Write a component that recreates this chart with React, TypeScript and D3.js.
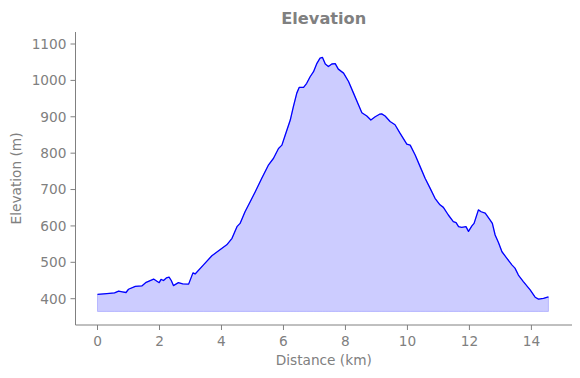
import React from "react";
import * as d3 from "d3";

const distanceKm = [
  0, 0.3, 0.55, 0.68, 0.8, 0.92, 1.0, 1.22, 1.43, 1.57, 1.81, 1.99, 2.05, 2.13, 2.22, 2.31,
  2.38, 2.45, 2.61, 2.75, 2.94, 3.08, 3.15, 3.42, 3.69, 3.94, 4.17, 4.34, 4.5, 4.6, 4.76,
  4.93, 5.09, 5.3, 5.52, 5.68, 5.84, 5.95, 6.05, 6.22, 6.32, 6.43, 6.51, 6.65, 6.75, 6.86,
  6.97, 7.08, 7.18, 7.26, 7.35, 7.45, 7.56, 7.67, 7.77, 7.94, 8.1, 8.26, 8.42, 8.53, 8.69,
  8.82, 8.96, 9.1, 9.17, 9.28, 9.44, 9.6, 9.76, 9.98, 10.09, 10.25, 10.41, 10.57, 10.73,
  10.89, 11.05, 11.16, 11.32, 11.48, 11.57, 11.65, 11.75, 11.89, 11.97, 12.08, 12.15, 12.29,
  12.38, 12.51, 12.67, 12.74, 12.83, 12.94, 13.05, 13.21, 13.37, 13.47, 13.58, 13.74, 13.96,
  14.12, 14.23, 14.39, 14.47, 14.55,
];

const elevationM = [
  412, 414, 416, 421, 419, 417, 426, 434, 435, 445, 454, 444, 453, 450, 457, 459,
  450, 436, 444, 441, 440, 471, 468, 493, 518, 534, 548, 566, 598, 607, 639,
  667, 694, 731, 768, 786, 813, 822, 848, 891, 928, 965, 981, 981, 992, 1010,
  1024, 1047, 1061, 1063, 1045, 1038, 1045, 1046, 1031, 1020, 997, 965, 933, 911, 902,
  891, 900, 907, 908, 902, 887, 878, 855, 825, 822, 795, 763, 731, 704,
  676, 658, 651, 630, 612, 609, 598, 596, 598, 585, 600, 607, 644,
  639, 635, 616, 607, 575, 554, 529, 511, 493, 484, 465, 447, 424,
  404, 399, 401, 403, 405,
];

const xTicks = [0, 2, 4, 6, 8, 10, 12, 14];
const yTicks = [400, 500, 600, 700, 800, 900, 1000, 1100];
const fillBase = 365;

const W = 580;
const H = 378;
const M = { left: 75.5, right: 572, top: 32, bottom: 325 };
const GRAY = "#808080";
const FONT = "DejaVu Sans, sans-serif";

export default function App() {
  const x = d3.scaleLinear().domain([-0.71, 15.31]).range([M.left, M.right]);
  const y = d3.scaleLinear().domain([327.7, 1133]).range([M.bottom, M.top]);
  const pts = distanceKm.map((d, i) => [d, elevationM[i]] as [number, number]);
  const line = d3.line<[number, number]>().x((d) => x(d[0])).y((d) => y(d[1]));
  const area = d3
    .area<[number, number]>()
    .x((d) => x(d[0]))
    .y0(() => y(fillBase))
    .y1((d) => y(d[1]));

  return (
    <svg width={W} height={H} style={{ position: "absolute", left: 0, top: 0 }} fontFamily={FONT}>
      <rect width={W} height={H} fill="#fff" />
      <path d={area(pts) || ""} fill="rgba(0,0,255,0.2)" stroke="rgba(0,0,255,0.2)" strokeWidth={1} />
      <path d={line(pts) || ""} fill="none" stroke="#0000ff" strokeWidth={1.3} strokeLinejoin="round" />
      {/* spines */}
      <line x1={M.left} x2={M.left} y1={M.top} y2={M.bottom} stroke={GRAY} strokeWidth={1} />
      <line x1={M.left} x2={M.right} y1={M.bottom} y2={M.bottom} stroke={GRAY} strokeWidth={1} />
      {xTicks.map((t) => (
        <g key={"x" + t} transform={`translate(${x(t)},${M.bottom})`}>
          <line y1={0} y2={5} stroke={GRAY} strokeWidth={1} />
          <text y={21} textAnchor="middle" fontSize={13.7} fill={GRAY}>
            {t}
          </text>
        </g>
      ))}
      {yTicks.map((t) => (
        <g key={"y" + t} transform={`translate(${M.left},${y(t)})`}>
          <line x1={0} x2={-5} stroke={GRAY} strokeWidth={1} />
          <text x={-9} dy="0.36em" textAnchor="end" fontSize={13.7} fill={GRAY}>
            {t}
          </text>
        </g>
      ))}
      <text x={(M.left + M.right) / 2} y={365} textAnchor="middle" fontSize={13.7} fill={GRAY}>
        Distance (km)
      </text>
      <text
        transform={`translate(21,${(M.top + M.bottom) / 2}) rotate(-90)`}
        textAnchor="middle"
        fontSize={13.7}
        fill={GRAY}
      >
        Elevation (m)
      </text>
      <text x={(M.left + M.right) / 2} y={24} textAnchor="middle" fontSize={16.2} fontWeight="bold" fill={GRAY}>
        Elevation
      </text>
    </svg>
  );
}
